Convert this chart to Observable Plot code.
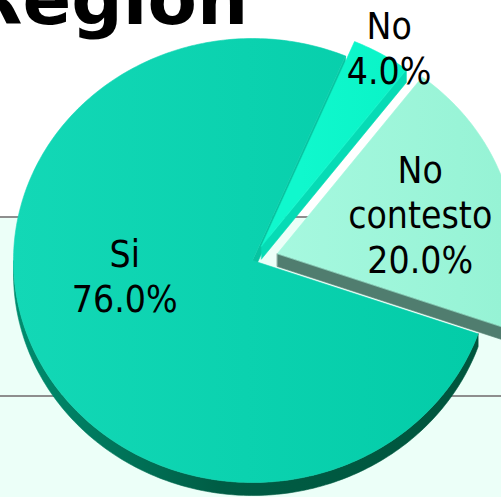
<!DOCTYPE html>
<html><head><meta charset="utf-8">
<script src="https://cdn.jsdelivr.net/npm/d3@7"></script>
<script src="https://cdn.jsdelivr.net/npm/@observablehq/plot@0.6"></script>
<style>
html,body{margin:0;padding:0;background:#fff;}
#wrap{position:relative;width:501px;height:497px;overflow:hidden;
background:linear-gradient(to bottom,#fff 0,#fff 216px,#8e8e8e 216px,#8e8e8e 218px,#ecfff8 218px,#ecfff8 395px,#8e8e8e 395px,#8e8e8e 397px,#ecfff8 397px);}
#title{position:absolute;left:-33px;top:-37px;font:bold 72px/72px "DejaVu Sans",sans-serif;white-space:nowrap;color:#000;}
#chart{position:absolute;left:0;top:0;}
</style></head><body>
<div id="wrap"><div id="title"></div><div id="chart"></div></div>
<script>
// ---- data ----
const title = "Region";
const categories = ["No", "No contesto", "Si"];
const values = [4.0, 20.0, 76.0];

// ---- layout / style ----
const W = 501, H = 497;
const geom = {cx: 252, cy: 260, rx: 239, ry: 222, depth: 13, start: 22.9};
const explodePx = {"No": 18, "No contesto": 26, "Si": 0};
const labelPlace = {"No": {angle: 31, r: 1.11}, "No contesto": {angle: 74, r: 0.73}, "Si": {angle: 262, r: 0.54}};
const topFill = {"No": "url(#gNo)", "No contesto": "url(#gNC)", "Si": "url(#gSi)"};
const radialFill = {"No": "#06dbb5", "No contesto": "#507d6f", "Si": "#07c4a1"};
const outerFill = {"No": "#05c9a5", "No contesto": "#4d7a6c", "Si": "url(#gSiSide)"};
const drawOrder = ["Si", "No", "No contesto"];

document.getElementById("title").textContent = title;

const rad = d => d * Math.PI / 180;
const total = d3.sum(values);
let acc = geom.start;
const slices = categories.map((c, i) => {
  const a0 = acc, a1 = acc + values[i] / total * 360;
  acc = a1;
  const m = (a0 + a1) / 2, e = explodePx[c];
  const off = {x: e * Math.sin(rad(m)), y: -e * Math.cos(rad(m)) * geom.ry / geom.rx};
  return {cat: c, value: values[i], a0, a1, m, off};
});

function pt(s, a, r = 1, dz = 0) {
  return {x: geom.cx + s.off.x + r * geom.rx * Math.sin(rad(a)),
          y: geom.cy + s.off.y - r * geom.ry * Math.cos(rad(a)) + dz};
}
function arc(s, a0, a1, dz = 0) {
  const n = Math.max(2, Math.ceil(Math.abs(a1 - a0)));
  return d3.range(n + 1).map(k => pt(s, a0 + (a1 - a0) * k / n, 1, dz));
}

const faces = [];
for (const c of drawOrder) {
  const s = slices.find(d => d.cat === c);
  const d = geom.depth;
  const center = pt(s, 0, 0), centerD = pt(s, 0, 0, d);
  for (const base of [0, 360]) {
    const lo = Math.max(s.a0, 90 + base), hi = Math.min(s.a1, 270 + base);
    if (hi > lo) {
      const top = arc(s, lo, hi), bot = arc(s, lo, hi, d).reverse();
      faces.push({pts: [...top, ...bot], fill: outerFill[c]});
    }
  }
  if (Math.sin(rad(s.a0)) < 0) {
    faces.push({pts: [center, pt(s, s.a0), pt(s, s.a0, 1, d), centerD], fill: radialFill[c]});
  }
  if (Math.sin(rad(s.a1)) > 0) {
    faces.push({pts: [center, pt(s, s.a1), pt(s, s.a1, 1, d), centerD], fill: radialFill[c]});
  }
  faces.push({pts: [center, ...arc(s, s.a0, s.a1)], fill: topFill[c]});
}

const labelData = slices.map(s => {
  const p = labelPlace[s.cat];
  return {
    x: geom.cx + p.r * geom.rx * Math.sin(rad(p.angle)),
    y: geom.cy - 2 - p.r * geom.ry * Math.cos(rad(p.angle)),
    text: s.cat.replace(" ", "\n") + "\n" + s.value.toFixed(1) + "%"
  };
});

const plot = Plot.plot({
  width: W, height: H,
  margin: 0,
  style: {background: "transparent", overflow: "visible"},
  x: {domain: [0, W], range: [0, W], axis: null},
  y: {domain: [0, H], range: [0, H], axis: null},
  marks: [
    ...faces.map(f => Plot.line(f.pts, {x: "x", y: "y", fill: f.fill, stroke: f.fill, strokeWidth: 0.6, curve: "linear-closed"})),
    Plot.text(labelData, {x: "x", y: "y", text: "text", fontSize: 37, lineHeight: 1.22,
      fontFamily: "'DejaVu Sans Condensed', 'Liberation Sans', sans-serif", fill: "#000", textAnchor: "middle"})
  ]
});

const ns = "http://www.w3.org/2000/svg";
const defs = document.createElementNS(ns, "defs");
function grad(id, stops, x1 = 0, x2 = W) {
  const g = document.createElementNS(ns, "linearGradient");
  g.setAttribute("id", id);
  g.setAttribute("gradientUnits", "userSpaceOnUse");
  g.setAttribute("x1", x1); g.setAttribute("x2", x2);
  g.setAttribute("y1", 0); g.setAttribute("y2", 0);
  for (const [o, c] of stops) {
    const st = document.createElementNS(ns, "stop");
    st.setAttribute("offset", o); st.setAttribute("stop-color", c);
    g.appendChild(st);
  }
  defs.appendChild(g);
}
grad("gSi", [[0, "#13d8b6"], [1, "#03cca8"]], 10, 480);
grad("gSiSide", [[0, "#008e70"], [0.45, "#005c44"], [1, "#00553d"]], 10, 480);
grad("gNo", [[0, "#10f8cd"], [1, "#08f3c6"]], 300, 420);
grad("gNC", [[0, "#a6f8df"], [1, "#96f3d5"]], 280, 501);
plot.insertBefore(defs, plot.firstChild);
document.getElementById("chart").appendChild(plot);
</script>
</body></html>
